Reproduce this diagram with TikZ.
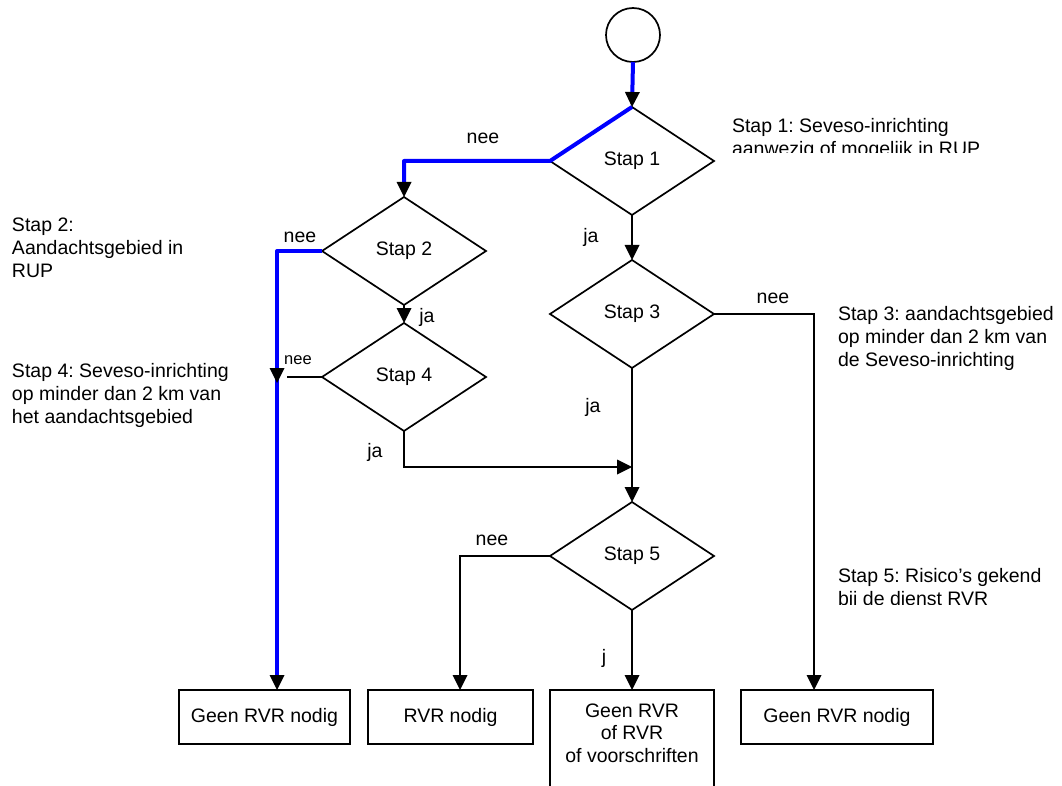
\documentclass[tikz,border=0pt]{standalone}
\usepackage{fontspec}
\setmainfont{Liberation Sans}
\usetikzlibrary{shapes.geometric,arrows.meta}
\frenchspacing

\begin{document}
\begin{tikzpicture}[x=1pt,y=-1pt,
  every node/.style={inner sep=0pt, outer sep=0pt, font=\fontsize{19.5}{23}\selectfont},
  decision/.style={draw, line width=1.7pt, diamond, aspect=1.52,
    minimum width=164pt, minimum height=108pt},
  outcome/.style={draw, line width=1.7pt, rectangle, minimum height=54pt},
  note/.style={anchor=north west, align=left},
  small/.style={font=\fontsize{16.5}{19}\selectfont},
  tip/.style={-{Triangle[width=15pt,length=15pt,line width=0pt,color=black,fill=black]}},
  flow/.style={line width=1.7pt, tip},
  route/.style={line width=4pt, draw=blue, line join=round, tip},
]
\useasboundingbox (0,0) rectangle (1062,786);
\clip (0,0) rectangle (1062,786);

% start and decisions
\node[draw, circle, line width=1.7pt, minimum size=54pt] (start) at (633,35) {};
\node[decision] (s1) at (632,161) {Stap 1};
\node[decision] (s2) at (404,251) {Stap 2};
\node[decision] (s3) at (632,314) {Stap 3};
\node[decision] (s4) at (404,377) {Stap 4};
\node[decision] (s5) at (632,556) {Stap 5};

% outcomes
\node[outcome, minimum width=171pt] (b1) at (264.5,717) {Geen RVR nodig};
\node[outcome, minimum width=165pt] (b2) at (450.5,717) {RVR nodig};
\node[outcome, minimum width=164pt, minimum height=110pt] (b3) at (632,745) {};
\node[align=center, font=\fontsize{19.5}{22.5}\selectfont] (b3t) at (632,733)
  {Geen RVR\\of RVR\\of voorschriften};
\node[outcome, minimum width=192pt] (b4) at (837,717) {Geen RVR nodig\hspace{12pt}};

% routing points
\coordinate (c1) at (404,161);
\coordinate (c2) at (277,251);
\coordinate (c3) at (814,314);
\coordinate (c4) at (460,556);
\coordinate (merge) at (632,467);
\coordinate (n4a) at (287,377);
\coordinate (n4b) at (277,368);
\coordinate (n4c) at (277,383);

% connectors
\draw[flow] (s1.south) -- (s3.north);
\draw[flow] (s2.south) -- (s4.north);
\draw[line width=1.7pt] (s4.west) -- (n4a);
\draw[flow] (s4.south) |- (merge);
\draw[flow] (s3.south) -- (s5.north);
\draw[flow] (s3.east) -- (c3) -- (c3 |- b4.north);
\draw[flow] (s5.west) -- (c4) -- (c4 |- b2.north);
\draw[flow] (s5.south) -- (b3.north);

% highlighted route
\draw[route] (start.south) -- (s1.north);
\draw[route] (s1.north) -- (s1.west) -- (c1) -- (s2.north);
\draw[route] (s2.west) -- (c2) -- (c2 |- b1.north);
\draw[flow] (n4b) -- (n4c);

% branch labels
\node at (483,138) {nee};
\node at (591,237) {ja};
\node at (300,237) {nee};
\node at (427,317) {ja};
\node[small] at (298,360) {nee};
\node at (375,452) {ja};
\node at (773,298) {nee};
\node at (593,407) {ja};
\node at (492,540) {nee};
\node at (604,658) {j};

% step descriptions
\begin{scope}
  \clip (700,100) rectangle (1062,153);
  \node[note] (d1) at (732,118) {Stap 1: Seveso-inrichting\\aanwezig of mogelijk in RUP};
\end{scope}
\node[note] (d2) at (12,218) {Stap 2:\\Aandachtsgebied in\\RUP};
\node[note] (d3) at (838,306) {Stap 3: aandachtsgebied\\op minder dan 2 km van\\de Seveso-inrichting};
\node[note] (d4) at (12,363) {Stap 4: Seveso-inrichting\\op minder dan 2 km van\\het aandachtsgebied};
\begin{scope}
  \clip (820,540) rectangle (1062,604);
  \node[note] (d5) at (838,568) {Stap 5: Risico’s gekend\\bij de dienst RVR};
\end{scope}
\end{tikzpicture}
\end{document}
